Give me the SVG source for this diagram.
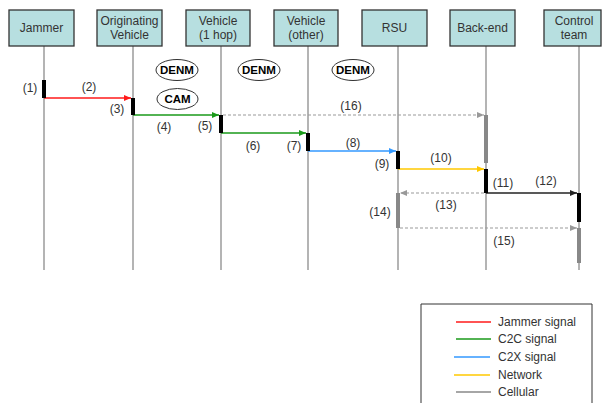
<svg xmlns="http://www.w3.org/2000/svg" width="603" height="403" viewBox="0 0 603 403">
  <style>
    text { font-family: "Liberation Sans", Arial, sans-serif; font-size: 12px; fill: #333; }
    .box { fill: #b7dfe0; stroke: #333; stroke-width: 1.3; }
    .life { stroke: #8c8c8c; stroke-width: 1.3; }
    .bar { fill: #000; }
    .gbar { fill: #888; }
    .msg { stroke-width: 1.3; fill: none; }
    .dash { stroke: #999; stroke-width: 1; stroke-dasharray: 3 2; fill: none; }
    .tag { fill: #fff; stroke: #333; stroke-width: 1; }
    .tagtxt { font-weight: bold; fill: #000; font-size: 11.5px; }
    .lbl { text-anchor: middle; }
  </style>
  <defs>
    <marker id="ah-red" markerWidth="7" markerHeight="6" refX="7" refY="3" orient="auto" markerUnits="userSpaceOnUse"><path d="M0,0 L7,3 L0,6 Z" fill="#ff1a1a"/></marker>
    <marker id="ah-green" markerWidth="7" markerHeight="6" refX="7" refY="3" orient="auto" markerUnits="userSpaceOnUse"><path d="M0,0 L7,3 L0,6 Z" fill="#1a9a1a"/></marker>
    <marker id="ah-blue" markerWidth="7" markerHeight="6" refX="7" refY="3" orient="auto" markerUnits="userSpaceOnUse"><path d="M0,0 L7,3 L0,6 Z" fill="#3399ff"/></marker>
    <marker id="ah-yellow" markerWidth="7" markerHeight="6" refX="7" refY="3" orient="auto" markerUnits="userSpaceOnUse"><path d="M0,0 L7,3 L0,6 Z" fill="#ffc800"/></marker>
    <marker id="ah-black" markerWidth="7" markerHeight="6" refX="7" refY="3" orient="auto" markerUnits="userSpaceOnUse"><path d="M0,0 L7,3 L0,6 Z" fill="#222"/></marker>
    <marker id="ah-gray" markerWidth="7" markerHeight="6" refX="7" refY="3" orient="auto" markerUnits="userSpaceOnUse"><path d="M0,0 L7,3 L0,6 Z" fill="#999"/></marker>
  </defs>
  <rect width="603" height="403" fill="#fff"/>

  <!-- lifelines -->
  <g id="lifelines">
    <line class="life" x1="44" y1="46" x2="44" y2="270"/>
    <line class="life" x1="133" y1="46" x2="133" y2="270"/>
    <line class="life" x1="221" y1="46" x2="221" y2="270"/>
    <line class="life" x1="308" y1="46" x2="308" y2="270"/>
    <line class="life" x1="398" y1="46" x2="398" y2="270"/>
    <line class="life" x1="486" y1="46" x2="486" y2="270"/>
    <line class="life" x1="579" y1="46" x2="579" y2="270"/>
  </g>

  <!-- participants -->
  <g id="jammer">
    <rect class="box" x="9" y="10" width="65" height="36"/>
    <text x="41.5" y="32" text-anchor="middle">Jammer</text>
  </g>
  <g id="originating-vehicle">
    <rect class="box" x="97" y="10" width="65" height="36"/>
    <text x="129.5" y="25" text-anchor="middle">Originating</text>
    <text x="129.5" y="39" text-anchor="middle">Vehicle</text>
  </g>
  <g id="vehicle-1hop">
    <rect class="box" x="186" y="10" width="64" height="36"/>
    <text x="218" y="25" text-anchor="middle">Vehicle</text>
    <text x="218" y="39" text-anchor="middle">(1 hop)</text>
  </g>
  <g id="vehicle-other">
    <rect class="box" x="274" y="10" width="64" height="36"/>
    <text x="306" y="25" text-anchor="middle">Vehicle</text>
    <text x="306" y="39" text-anchor="middle">(other)</text>
  </g>
  <g id="rsu">
    <rect class="box" x="362" y="10" width="65" height="36"/>
    <text x="394.5" y="32" text-anchor="middle">RSU</text>
  </g>
  <g id="back-end">
    <rect class="box" x="450" y="10" width="65" height="36"/>
    <text x="482.5" y="32" text-anchor="middle">Back-end</text>
  </g>
  <g id="control-team">
    <rect class="box" x="544" y="10" width="57" height="36"/>
    <text x="574" y="25" text-anchor="middle">Control</text>
    <text x="574" y="39" text-anchor="middle">team</text>
  </g>

  <!-- message tags -->
  <g id="tags">
    <ellipse class="tag" cx="177" cy="70" rx="21" ry="10.5"/>
    <text class="tagtxt" x="177" y="74" text-anchor="middle">DENM</text>
    <ellipse class="tag" cx="177.5" cy="99" rx="20.5" ry="10.5"/>
    <text class="tagtxt" x="177.5" y="103" text-anchor="middle">CAM</text>
    <ellipse class="tag" cx="259" cy="70" rx="21" ry="10.5"/>
    <text class="tagtxt" x="259" y="74" text-anchor="middle">DENM</text>
    <ellipse class="tag" cx="353" cy="70" rx="21" ry="10.5"/>
    <text class="tagtxt" x="353" y="74" text-anchor="middle">DENM</text>
  </g>

  <!-- connectors -->
  <g id="connectors">
    <line class="msg" x1="44" y1="98" x2="131" y2="98" stroke="#ff1a1a" marker-end="url(#ah-red)"/>
    <line class="msg" x1="133" y1="115" x2="219" y2="115" stroke="#1a9a1a" marker-end="url(#ah-green)"/>
    <line class="dash" x1="223" y1="115" x2="484" y2="115" marker-end="url(#ah-gray)"/>
    <line class="msg" x1="221" y1="133" x2="306" y2="133" stroke="#1a9a1a" marker-end="url(#ah-green)"/>
    <line class="msg" x1="308" y1="151" x2="396" y2="151" stroke="#3399ff" marker-end="url(#ah-blue)"/>
    <line class="msg" x1="398" y1="169" x2="484" y2="169" stroke="#ffc800" marker-end="url(#ah-yellow)"/>
    <line class="msg" x1="486" y1="193" x2="577" y2="193" stroke="#222" marker-end="url(#ah-black)"/>
    <line class="dash" x1="484" y1="193" x2="400" y2="193" marker-end="url(#ah-gray)"/>
    <line class="dash" x1="400" y1="228" x2="577" y2="228" marker-end="url(#ah-gray)"/>
  </g>

  <!-- activation bars -->
  <g id="activations">
    <rect class="bar" x="42" y="80" width="4" height="18"/>
    <rect class="bar" x="131" y="98" width="4" height="17"/>
    <rect class="bar" x="219" y="115" width="4" height="18"/>
    <rect class="bar" x="306" y="133" width="4" height="18"/>
    <rect class="bar" x="396" y="151" width="4" height="18"/>
    <rect class="bar" x="484" y="169" width="4" height="24"/>
    <rect class="bar" x="577" y="193" width="4" height="29"/>
    <rect class="gbar" x="484" y="115" width="4" height="48"/>
    <rect class="gbar" x="396" y="193" width="4" height="35"/>
    <rect class="gbar" x="577" y="228" width="4" height="35"/>
  </g>

  <!-- step labels -->
  <g id="labels">
    <text class="lbl" x="30" y="92">(1)</text>
    <text class="lbl" x="89" y="91">(2)</text>
    <text class="lbl" x="117" y="113">(3)</text>
    <text class="lbl" x="164" y="131">(4)</text>
    <text class="lbl" x="205" y="130">(5)</text>
    <text class="lbl" x="253" y="150">(6)</text>
    <text class="lbl" x="294" y="150">(7)</text>
    <text class="lbl" x="353" y="147">(8)</text>
    <text class="lbl" x="382" y="168">(9)</text>
    <text class="lbl" x="441" y="162">(10)</text>
    <text class="lbl" x="503" y="187">(11)</text>
    <text class="lbl" x="546" y="185">(12)</text>
    <text class="lbl" x="446" y="209">(13)</text>
    <text class="lbl" x="380" y="216">(14)</text>
    <text class="lbl" x="504" y="245">(15)</text>
    <text class="lbl" x="351" y="110">(16)</text>
  </g>

  <!-- legend -->
  <g id="legend">
    <path d="M421,403 V304 H592 V403" fill="#fff" stroke="#333" stroke-width="1"/>
    <line x1="456" y1="322" x2="491" y2="322" stroke="#ff1a1a" stroke-width="1.5"/>
    <line x1="456" y1="339" x2="491" y2="339" stroke="#1a9a1a" stroke-width="1.5"/>
    <line x1="454" y1="357" x2="490" y2="357" stroke="#3399ff" stroke-width="1.5"/>
    <line x1="454" y1="375" x2="490" y2="375" stroke="#ffc800" stroke-width="1.5"/>
    <line x1="456" y1="392" x2="491" y2="392" stroke="#888" stroke-width="1.5"/>
    <text x="498" y="326">Jammer signal</text>
    <text x="498" y="343">C2C signal</text>
    <text x="498" y="361">C2X signal</text>
    <text x="498" y="379">Network</text>
    <text x="498" y="396">Cellular</text>
  </g>
</svg>
